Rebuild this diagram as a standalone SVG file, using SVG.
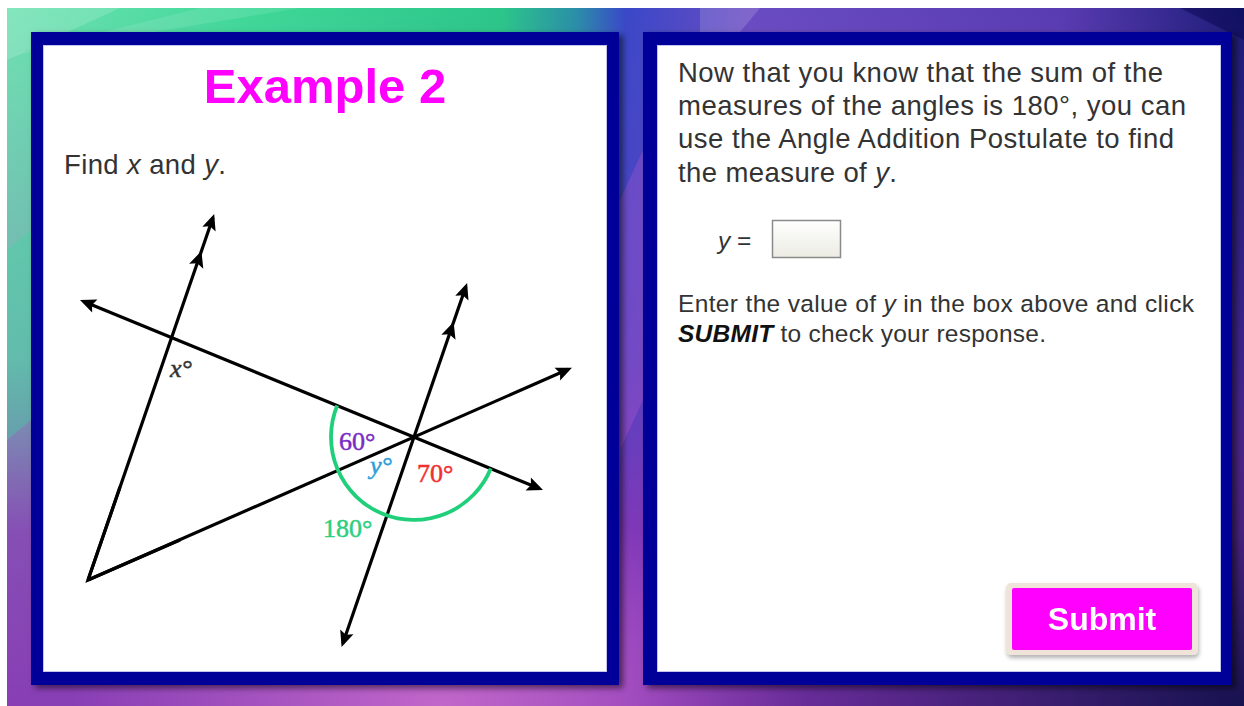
<svg xmlns="http://www.w3.org/2000/svg" width="1244" height="706" viewBox="0 0 1244 706">
<style>
.txt{font-family:"Liberation Sans",Arial,sans-serif;fill:#333333}
.lbl{font-family:"Liberation Serif","DejaVu Serif",serif;font-size:26px;stroke-width:0.5px}
.ln{fill:none;stroke:#000;stroke-width:3.2;stroke-linecap:butt}
.frame{fill:#020299}
.inner{fill:#ffffff;stroke:#c4c4ee;stroke-width:1}
</style>
<defs>
<linearGradient id="bgH" x1="0" y1="0" x2="1" y2="0">
<stop offset="0" stop-color="#6fe2b2"/>
<stop offset="0.2" stop-color="#3fd898"/>
<stop offset="0.4" stop-color="#2cc689"/>
<stop offset="0.46" stop-color="#2a8fa8"/>
<stop offset="0.5" stop-color="#3a48c8"/>
<stop offset="0.6" stop-color="#6a4cc2"/>
<stop offset="0.85" stop-color="#5a3cb2"/>
<stop offset="1" stop-color="#1c1c78"/>
</linearGradient>
<linearGradient id="bgV" x1="0" y1="0" x2="0" y2="1">
<stop offset="0" stop-color="#8a35b5" stop-opacity="0"/>
<stop offset="0.5" stop-color="#8a35b5" stop-opacity="0.3"/>
<stop offset="0.75" stop-color="#8a35b5" stop-opacity="0.85"/>
<stop offset="1" stop-color="#8a35b5" stop-opacity="0.95"/>
</linearGradient>
<radialGradient id="bgDark" cx="1" cy="1" r="0.5">
<stop offset="0" stop-color="#10104a" stop-opacity="0.95"/>
<stop offset="1" stop-color="#10104a" stop-opacity="0"/>
</radialGradient>
<radialGradient id="bgPink" cx="0.35" cy="1" r="0.3">
<stop offset="0" stop-color="#d070d0" stop-opacity="0.8"/>
<stop offset="1" stop-color="#d070d0" stop-opacity="0"/>
</radialGradient>
<linearGradient id="boxG" x1="0" y1="0" x2="0" y2="1">
<stop offset="0" stop-color="#ffffff"/>
<stop offset="1" stop-color="#ecebe3"/>
</linearGradient>
<filter id="sh" x="-5%" y="-5%" width="112%" height="112%">
<feDropShadow dx="4" dy="3" stdDeviation="3" flood-color="#000" flood-opacity="0.55"/>
</filter>
<filter id="bsh" x="-10%" y="-10%" width="125%" height="135%">
<feDropShadow dx="1" dy="3" stdDeviation="2" flood-color="#000" flood-opacity="0.3"/>
</filter>
<marker id="ah" markerUnits="userSpaceOnUse" viewBox="-16 -9 22 18" refX="0" refY="0" markerWidth="22" markerHeight="18" orient="auto-start-reverse">
<path d="M4,0 L-12,-7 L-9,0 L-12,7 Z" fill="#000"/>
</marker>
<marker id="am" markerUnits="userSpaceOnUse" viewBox="-16 -9 22 18" refX="0" refY="0" markerWidth="22" markerHeight="18" orient="auto">
<path d="M5,0 L-11,-7.5 L-8,0 L-11,7.5 Z" fill="#000"/>
</marker>
</defs>

<g id="background">
<rect x="7" y="8" width="1237" height="698" fill="url(#bgH)"/>
<rect x="7" y="8" width="1237" height="698" fill="url(#bgV)"/>
<rect x="7" y="8" width="1237" height="698" fill="url(#bgPink)"/>
<rect x="7" y="8" width="1237" height="698" fill="url(#bgDark)"/>
<polygon points="7,8 120,8 7,60" fill="#ffffff" opacity="0.15"/>
<polygon points="200,8 300,8 7,56" fill="#ffffff" opacity="0.1"/>
<polygon points="700,8 760,8 740,32 700,32" fill="#ffffff" opacity="0.15"/>
<polygon points="1180,8 1244,8 1244,40" fill="#000040" opacity="0.4"/>
<polygon points="620,200 643,150 643,400 620,450" fill="#d060d0" opacity="0.25"/>
<polygon points="7,250 31,230 31,420 7,440" fill="#40d8a0" opacity="0.35"/>
</g>

<g id="left-panel">
<rect class="frame" x="31" y="32" width="588" height="653" filter="url(#sh)"/>
<rect class="inner" x="43.5" y="45.5" width="563" height="626"/>
<text x="325" y="103" text-anchor="middle" style="font-family:'Liberation Sans',Arial,sans-serif;font-weight:bold;font-size:49px;fill:#ff00ff">Example 2</text>
<text class="txt" x="64" y="174" font-size="27.5" textLength="162" lengthAdjust="spacing">Find <tspan font-style="italic">x</tspan> and <tspan font-style="italic">y</tspan>.</text>
</g>

<g id="right-panel">
<rect class="frame" x="643" y="32" width="589" height="653" filter="url(#sh)"/>
<rect class="inner" x="657.5" y="45.5" width="563" height="626"/>
<g class="txt" font-size="27.5">
<text x="678" y="82" textLength="485" lengthAdjust="spacing">Now that you know that the sum of the</text>
<text x="678" y="115" textLength="508" lengthAdjust="spacing">measures of the angles is 180°, you can</text>
<text x="678" y="148" textLength="496" lengthAdjust="spacing">use the Angle Addition Postulate to find</text>
<text x="678" y="182" textLength="219" lengthAdjust="spacing">the measure of <tspan font-style="italic">y</tspan>.</text>
</g>
<g id="answer">
<text class="txt" x="718" y="249" font-size="24.5"><tspan font-style="italic">y</tspan> =</text>
<rect x="772.5" y="220.5" width="68" height="37" fill="url(#boxG)" stroke="#8a8a8a" stroke-width="1.5"/>
</g>
<g class="txt" font-size="24.5">
<text x="678" y="312" textLength="516" lengthAdjust="spacing">Enter the value of <tspan font-style="italic">y</tspan> in the box above and click</text>
<text x="678" y="342" textLength="368" lengthAdjust="spacing"><tspan font-weight="bold" font-style="italic" fill="#111">SUBMIT</tspan> to check your response.</text>
</g>
<g id="submit" filter="url(#bsh)">
<rect x="1006" y="583" width="192" height="72" rx="5" fill="#efe3da"/>
<rect x="1012" y="588" width="180" height="62" rx="2" fill="#ff00ff"/>
<text x="1102" y="630" text-anchor="middle" style="font-family:'Liberation Sans',Arial,sans-serif;font-weight:bold;font-size:32px;fill:#ffffff">Submit</text>
</g>
</g>

<g id="connectors">
<path class="ln" d="M120,487 L88,580 L180,540" stroke-linejoin="miter"/>
<path class="ln" d="M88,580 L199.8,255.8" marker-end="url(#am)"/>
<path class="ln" d="M199.8,255.8 L212.9,217.8" marker-end="url(#ah)"/>
<path class="ln" d="M83.7,301.5 L539.3,488.5" marker-start="url(#ah)" marker-end="url(#ah)"/>
<path class="ln" d="M88,580 L568.3,369.3" marker-end="url(#ah)"/>
<path class="ln" d="M342.9,643.2 L452,326.8" marker-start="url(#ah)" marker-end="url(#am)"/>
<path class="ln" d="M452,326.8 L465.8,286.8" marker-end="url(#ah)"/>
<path d="M337.2,405.5 A83,83 0 0 0 490.8,468.5" fill="none" stroke="#1fcf7a" stroke-width="3.8"/>
</g>

<g id="angle-labels">
<text class="lbl" x="170" y="377" font-size="22" font-style="italic" fill="#333" stroke="#333">x°</text>
<text class="lbl" x="339" y="450" fill="#7a2cc4" stroke="#7a2cc4">60°</text>
<text class="lbl" x="370" y="474" fill="#2a9fd8" stroke="#2a9fd8" font-style="italic">y°</text>
<text class="lbl" x="417" y="482" fill="#f03030" stroke="#f03030">70°</text>
<text class="lbl" x="323" y="537" fill="#2ecf80" stroke="#2ecf80">180°</text>
</g>
</svg>
